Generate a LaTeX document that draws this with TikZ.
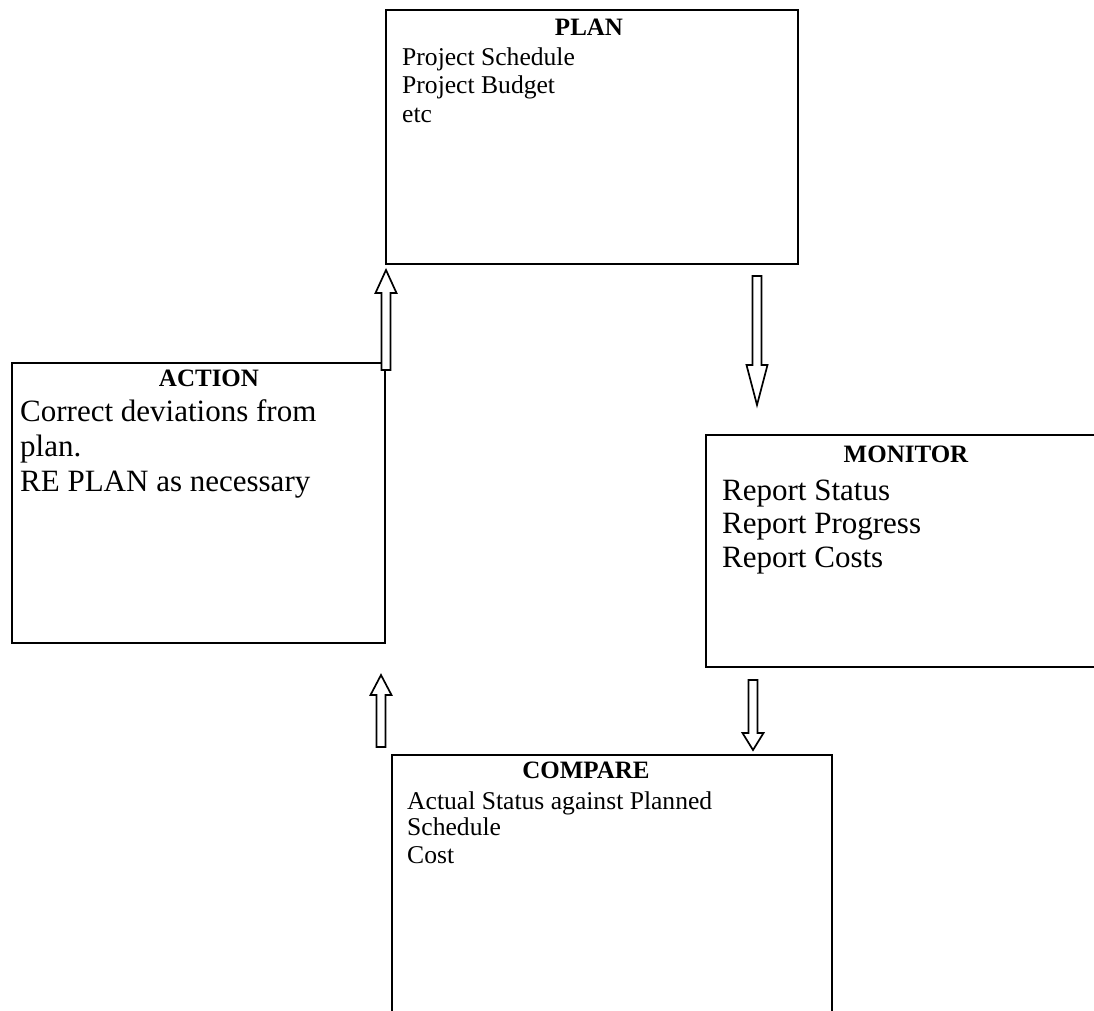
\documentclass[tikz,border=0pt]{standalone}
\usepackage{fontspec}
\setmainfont{Liberation Serif}
\usetikzlibrary{calc}
\newcommand\blockarrow[3]{%
  \draw[barrow] ($(#1)+(-4.5,0)$) -- ($(#2)+(-4.5,#3)$) -- ($(#2)+(-10.5,#3)$) -- (#2)
    -- ($(#2)+(10.5,#3)$) -- ($(#2)+(4.5,#3)$) -- ($(#1)+(4.5,0)$) -- cycle;}
\begin{document}
\begin{tikzpicture}[x=1pt,y=-1pt,
  box/.style={draw, line width=1.6pt, rectangle, inner sep=0pt},
  head/.style={font=\fontsize{25}{30}\selectfont\bfseries, anchor=base, inner sep=0pt},
  smalltxt/.style={font=\fontsize{25.6}{28}\selectfont, anchor=base west, inner sep=0pt},
  bigtxt/.style={font=\fontsize{31}{35}\selectfont, anchor=base west, inner sep=0pt},
  barrow/.style={draw, line width=1.7pt, fill=white, line join=miter}]
\useasboundingbox (0,0) rectangle (1094,1010);
\fill[white] (0,0) rectangle (1094,1010);
\clip (0,0) rectangle (1094,1010);

% boxes
\node[box, minimum width=412pt, minimum height=254pt] (plan) at (592,137) {};
\node[box, minimum width=373pt, minimum height=280pt] (action) at (198.5,503) {};
\node[box, minimum width=400pt, minimum height=232pt] (monitor) at (906,551) {};
\node[box, minimum width=440pt, minimum height=265pt] (compare) at (612,887.5) {};

% PLAN text
\node[head] (planh) at (589,35) {PLAN};
\node[smalltxt] (plan1) at (402,65) {Project Schedule};
\node[smalltxt] (plan2) at (402,93) {Project Budget};
\node[smalltxt] (plan3) at (402,122) {etc};

% ACTION text
\node[head] (actionh) at (209,386) {ACTION};
\node[bigtxt] (action1) at (20,421) {Correct deviations from};
\node[bigtxt] (action2) at (20,456) {plan.};
\node[bigtxt] (action3) at (20,491) {RE PLAN as necessary};

% MONITOR text
\node[head] (monitorh) at (906,462) {MONITOR};
\node[bigtxt] (monitor1) at (722,500) {Report Status};
\node[bigtxt] (monitor2) at (722,533) {Report Progress};
\node[bigtxt] (monitor3) at (722,567) {Report Costs};

% COMPARE text
\node[head] (compareh) at (586,778) {COMPARE};
\node[smalltxt] (compare1) at (407,809) {Actual Status against Planned};
\node[smalltxt] (compare2) at (407,835) {Schedule};
\node[smalltxt] (compare3) at (407,863) {Cost};

% block arrows
\coordinate (a1t) at (386,370);
\coordinate (a1h) at (386,270);
\coordinate (a2t) at (757,276);
\coordinate (a2h) at (757,405);
\coordinate (a3t) at (381,747);
\coordinate (a3h) at (381,675);
\coordinate (a4t) at (753,680);
\coordinate (a4h) at (753,750);
\blockarrow{a1t}{a1h}{23}
\blockarrow{a2t}{a2h}{-40}
\blockarrow{a3t}{a3h}{20}
\blockarrow{a4t}{a4h}{-17}
\end{tikzpicture}
\end{document}
